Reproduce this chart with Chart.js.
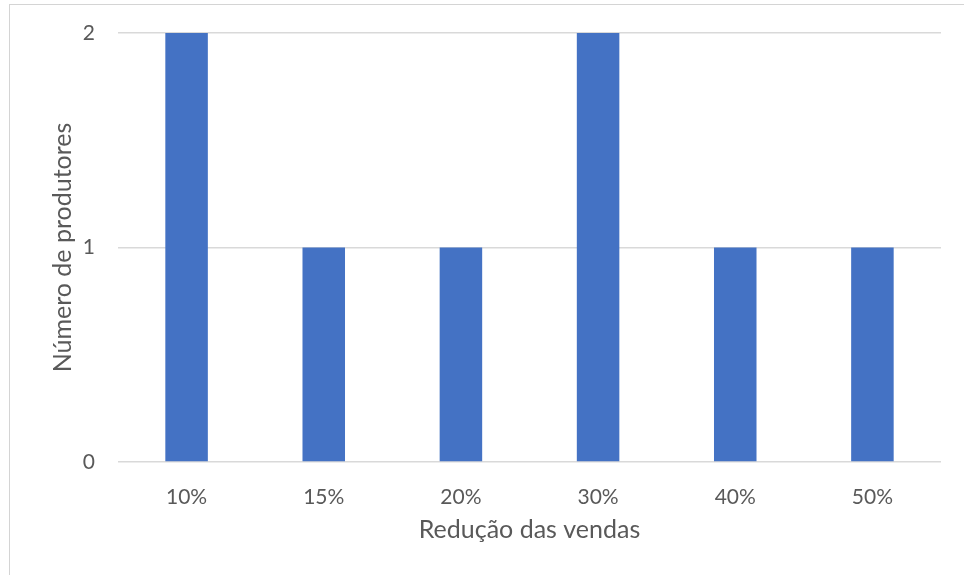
<!DOCTYPE html>
<html>
<head>
<meta charset="utf-8">
<script src="https://cdn.jsdelivr.net/npm/chart.js@4/dist/chart.umd.min.js"></script>
<style>
  html, body { margin: 0; padding: 0; background: #fff; }
  #wrap { position: relative; width: 964px; height: 575px; overflow: hidden; }
  #frame { position: absolute; left: 9px; top: 4px; right: -2px; bottom: -2px;
           border-top: 1px solid #d4d4d4; border-left: 1px solid #d4d4d4; }
  canvas { position: absolute; left: 0; top: 0; }
</style>
</head>
<body>
<div id="wrap">
  <div id="frame"></div>
  <canvas id="c" width="964" height="575"></canvas>
</div>
<script>
// Sales reduction reported and how many producers reported it
const categories = ['10%', '15%', '20%', '30%', '40%', '50%'];
const producers = [2, 1, 1, 2, 1, 1];
const yTicks = [0, 1, 2];

const xTitle = 'Redução das vendas';
const yTitle = 'Número de produtores';

const textColor = '#595959';
const fontFamily = 'Lato, "Open Sans", sans-serif';

new Chart(document.getElementById('c'), {
  type: 'bar',
  data: {
    labels: categories,
    datasets: [{
      data: producers,
      backgroundColor: '#4472C4',
      borderWidth: 0,
      categoryPercentage: 1.0,
      barPercentage: 0.31
    }]
  },
  options: {
    responsive: false,
    animation: false,
    layout: { padding: { left: 0, right: 23, top: 33, bottom: 0 } },
    plugins: { legend: { display: false }, tooltip: { enabled: false } },
    scales: {
      x: {
        grid: { display: false },
        border: { display: false },
        ticks: { color: textColor, font: { family: fontFamily, size: 21 }, padding: 15 },
        title: {
          display: true, text: xTitle, color: textColor,
          font: { family: fontFamily, size: 25 },
          padding: { top: 0, bottom: 30 }
        },
        afterFit: (s) => { s.height = 113; }
      },
      y: {
        min: 0, max: 2,
        afterBuildTicks: (s) => { s.ticks = yTicks.map(v => ({ value: v })); },
        grid: { color: '#d9d9d9', lineWidth: 1.5, drawTicks: false },
        border: { display: false },
        ticks: { color: textColor, font: { family: fontFamily, size: 21 }, padding: 23 },
        title: {
          display: true, text: yTitle, color: textColor,
          font: { family: fontFamily, size: 25 },
          padding: { top: 48, bottom: 0 }
        },
        // fixed axis width; the layout padding alone sets the plot's top edge
        afterFit: (s) => { s.width = 118; s.paddingTop = 0; s.paddingBottom = 0; }
      }
    }
  }
});
</script>
</body>
</html>
